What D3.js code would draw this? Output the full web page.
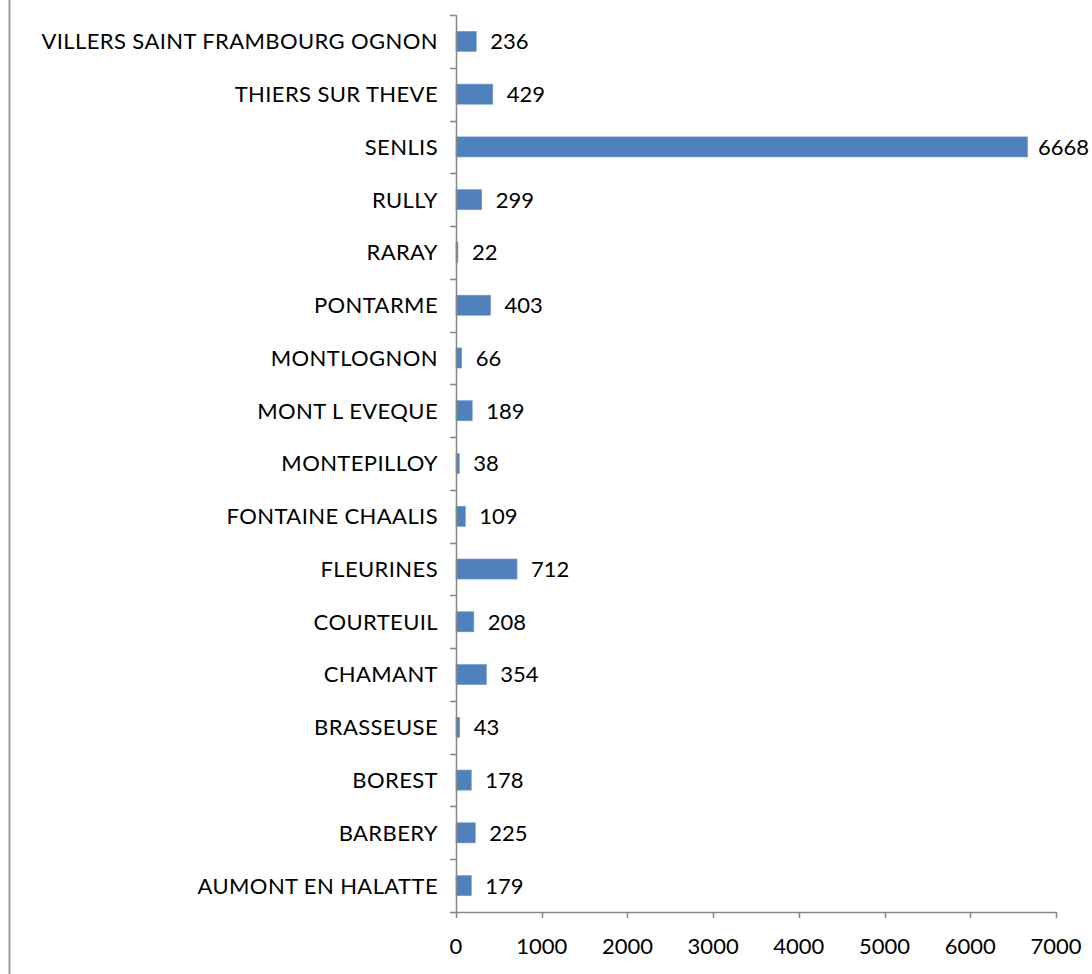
<!DOCTYPE html>
<html>
<head>
<meta charset="utf-8">
<script src="https://cdn.jsdelivr.net/npm/d3@7"></script>
<style>
  html, body { margin: 0; padding: 0; background: #ffffff; }
  svg { display: block; }
  text { font-family: Lato, "Open Sans", sans-serif; fill: #000; }
</style>
</head>
<body>
<svg id="chart" width="1092" height="974"></svg>
<script>
// Communes, listed bottom to top as on the category axis
const communes = [
  "AUMONT EN HALATTE", "BARBERY", "BOREST", "BRASSEUSE", "CHAMANT",
  "COURTEUIL", "FLEURINES", "FONTAINE CHAALIS", "MONTEPILLOY",
  "MONT L EVEQUE", "MONTLOGNON", "PONTARME", "RARAY", "RULLY",
  "SENLIS", "THIERS SUR THEVE", "VILLERS SAINT FRAMBOURG OGNON"
];
const values = [179, 225, 178, 43, 354, 208, 712, 109, 38, 189, 66, 403, 22, 299, 6668, 429, 236];
const xTicks = [0, 1000, 2000, 3000, 4000, 5000, 6000, 7000];

const svg = d3.select("#chart");
const plot = { left: 456, right: 1056, top: 15, bottom: 912 };
const fontSize = 22;

// Chart area border on the left edge
svg.append("line")
  .attr("x1", 9.5).attr("x2", 9.5).attr("y1", 0).attr("y2", 974)
  .attr("stroke", "#9a9a9a").attr("stroke-width", 2);

const x = d3.scaleLinear().domain([0, 7000]).range([plot.left, plot.right]);
const y = d3.scaleBand()
  .domain(communes.slice().reverse())
  .range([plot.top, plot.bottom])
  .paddingInner(0.62).paddingOuter(0.31);
const yBound = d3.scaleLinear().domain([0, communes.length]).range([plot.top, plot.bottom]);

// Bars
svg.append("g").selectAll("rect")
  .data(communes)
  .join("rect")
  .attr("x", x(0))
  .attr("y", (d) => y(d))
  .attr("width", (d, i) => x(values[i]) - x(0))
  .attr("height", y.bandwidth())
  .attr("fill", "#4f81bd")
  .attr("stroke", "#6b98cf")
  .attr("stroke-width", 0.6);

// Value labels, kept inside the right edge of the chart
svg.append("g").selectAll("text")
  .data(communes)
  .join("text")
  .attr("x", (d, i) => Math.min(x(values[i]) + 14, 1038))
  .attr("y", (d) => y(d) + y.bandwidth() / 2)
  .attr("dy", "0.36em")
  .attr("font-size", fontSize)
  .text((d, i) => values[i]);

// Category axis: line, boundary ticks and labels
const axisColor = "#878787";
svg.append("line")
  .attr("x1", plot.left + 0.5).attr("x2", plot.left + 0.5)
  .attr("y1", plot.top).attr("y2", plot.bottom)
  .attr("stroke", axisColor).attr("stroke-width", 1.5);
svg.append("g").selectAll("line")
  .data(d3.range(communes.length + 1))
  .join("line")
  .attr("x1", plot.left - 6).attr("x2", plot.left)
  .attr("y1", (k) => Math.round(yBound(k)) + 0.5)
  .attr("y2", (k) => Math.round(yBound(k)) + 0.5)
  .attr("stroke", axisColor).attr("stroke-width", 1.5);
svg.append("g").selectAll("text")
  .data(communes)
  .join("text")
  .attr("x", plot.left - 18)
  .attr("y", (d) => y(d) + y.bandwidth() / 2)
  .attr("dy", "0.36em")
  .attr("text-anchor", "end")
  .attr("font-size", fontSize)
  .attr("letter-spacing", "0.4px")
  .text((d) => d);

// Value axis
svg.append("line")
  .attr("x1", plot.left).attr("x2", plot.right)
  .attr("y1", plot.bottom + 0.5).attr("y2", plot.bottom + 0.5)
  .attr("stroke", axisColor).attr("stroke-width", 1.5);
svg.append("g").selectAll("line")
  .data(xTicks)
  .join("line")
  .attr("x1", (t) => Math.round(x(t)) + 0.5).attr("x2", (t) => Math.round(x(t)) + 0.5)
  .attr("y1", plot.bottom).attr("y2", plot.bottom + 6)
  .attr("stroke", axisColor).attr("stroke-width", 1.5);
svg.append("g").selectAll("text")
  .data(xTicks)
  .join("text")
  .attr("x", (t) => x(t))
  .attr("y", 946)
  .attr("dy", "0.36em")
  .attr("text-anchor", "middle")
  .attr("font-size", fontSize)
  .text((t) => t);
</script>
</body>
</html>
